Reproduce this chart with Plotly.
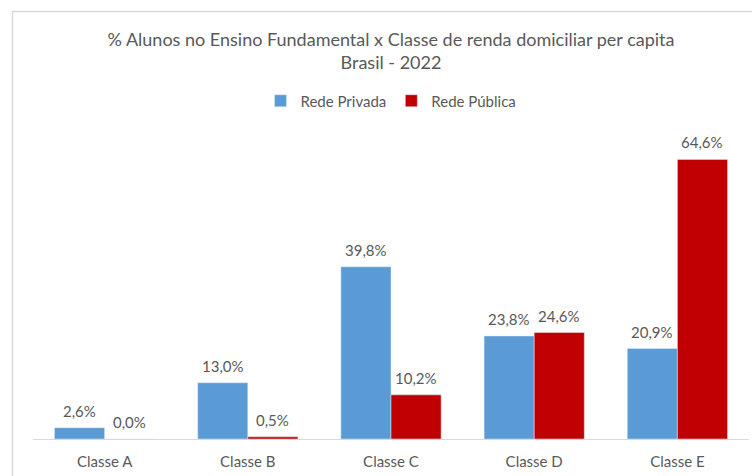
import plotly.graph_objects as go

# dados
classes = ["Classe A", "Classe B", "Classe C", "Classe D", "Classe E"]
rede_privada = [2.6, 13.0, 39.8, 23.8, 20.9]
rede_publica = [0.0, 0.5, 10.2, 24.6, 64.6]

cinza = "#595959"
fonte = "Lato"

fig = go.Figure()
fig.add_trace(go.Bar(x=classes, y=rede_privada, name="Rede Privada",
                     marker=dict(color="#5B9BD5")))
fig.add_trace(go.Bar(x=classes, y=rede_publica, name="Rede Pública",
                     marker=dict(color="#C00000")))

# rótulos de dados um pouco acima das barras, como no Excel
for serie, desloc in ((rede_privada, -25), (rede_publica, 25)):
    for c, v in zip(classes, serie):
        fig.add_annotation(x=c, y=v, text=f"{v:.1f}%".replace(".", ","),
                           showarrow=False, yanchor="bottom", yshift=6,
                           xshift=desloc,
                           font=dict(size=15, color=cinza, family=fonte))

# moldura do gráfico (cortada à direita e embaixo, como na imagem)
fig.add_shape(type="rect", xref="paper", yref="paper",
              x0=-0.0286, x1=1.2, y0=-0.3, y1=1.34,
              line=dict(color="#D9D9D9", width=1.5), layer="below")

fig.update_layout(
    width=752, height=476,
    margin=dict(l=33, r=3, t=120, b=37, autoexpand=False),
    paper_bgcolor="white", plot_bgcolor="white",
    barmode="group", bargap=0.30, bargroupgap=0,
    font=dict(family=fonte, color=cinza, size=15),
    title=dict(
        text="% Alunos no Ensino Fundamental x Classe de renda domiciliar per capita<br>Brasil - 2022",
        x=0.5, xref="paper", y=(476 - 46) / 476, yanchor="middle",
        font=dict(size=18, color=cinza, family=fonte),
    ),
    legend=dict(orientation="h", x=0.5, xanchor="center", y=(476 - 101) / 476,
                yref="container", yanchor="middle",
                font=dict(size=15, color=cinza), itemwidth=30),
    xaxis=dict(showline=True, linecolor="#D9D9D9", linewidth=1, automargin=False,
               ticks="", ticklabelstandoff=9, tickfont=dict(size=15, color=cinza)),
    yaxis=dict(range=[0, 73.7], visible=False, showgrid=False, automargin=False),
)

# sem a margem padrão do <body>, para a figura ocupar a janela toda
fig.write_html("out.html", config={"displayModeBar": False},
               post_script="document.body.style.margin='0';")
